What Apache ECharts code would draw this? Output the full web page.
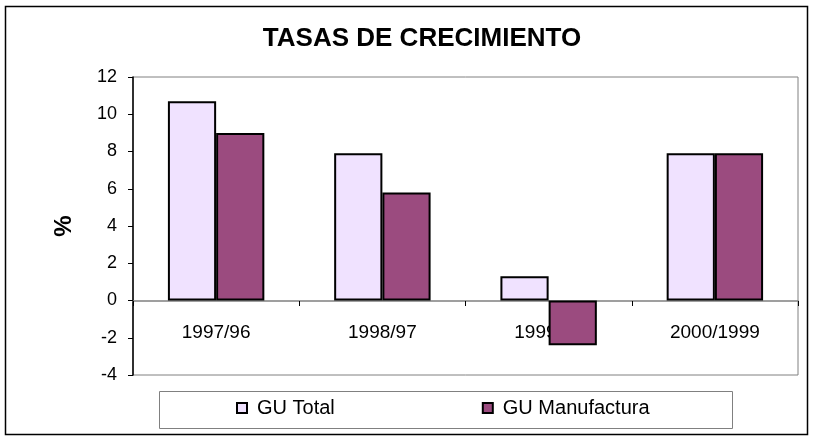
<!DOCTYPE html>
<html>
  <head>
    <meta charset="utf-8" />
    <title>Tasas de crecimiento</title>
    <script src="https://cdn.jsdelivr.net/npm/echarts@6/dist/echarts.min.js"></script>
    <style>
      html, body { margin: 0; padding: 0; background: #fff; }
    </style>
  </head>
  <body>
    <div id="main" style="width: 813px;height: 437px;"></div>
    <script type="text/javascript">
      var periodos = ['1997/96', '1998/97', '1999/98', '2000/1999']
      var guTotal = [10.7, 7.9, 1.3, 7.9]
      var guManufactura = [9.0, 5.8, -2.4, 7.9]
      var yTicks = [-4, 12, 2] // min, max, interval

      var font = 'Liberation Sans, Arial, sans-serif'
      var myChart = echarts.init(document.getElementById('main'))

      var option = {
        animation: false,
        backgroundColor: '#fff',
        title: {
          text: 'TASAS DE CRECIMIENTO',
          left: 417,
          textAlign: 'center',
          top: 21,
          textStyle: { fontFamily: font, fontSize: 26, fontWeight: 'bold', color: '#000' }
        },
        graphic: [
          {
            type: 'rect',
            shape: { x: 5.5, y: 6.5, width: 802, height: 428 },
            style: { fill: null, stroke: '#000', lineWidth: 1.5 },
            silent: true
          },
          {
            type: 'rect',
            shape: { x: 159.5, y: 391.5, width: 573, height: 37 },
            style: { fill: null, stroke: '#808080', lineWidth: 1 },
            silent: true
          }
        ],
        legend: {
          left: 236,
          top: 398,
          padding: 0,
          itemWidth: 10,
          itemHeight: 10,
          itemGap: 147,
          icon: 'rect',
          textStyle: { fontFamily: font, fontSize: 20, color: '#000', padding: [0, 0, 0, 5] },
          data: ['GU Total', 'GU Manufactura']
        },
        grid: {
          left: 133,
          right: 15,
          top: 77,
          bottom: 62,
          show: true,
          borderColor: '#808080',
          borderWidth: 1,
          containLabel: false
        },
        xAxis: {
          type: 'category',
          data: periodos,
          position: 'bottom',
          offset: -74,
          axisLine: { onZero: false, lineStyle: { color: '#808080', width: 1.5 } },
          axisTick: { show: true, inside: false, length: 5, lineStyle: { color: '#000' } },
          axisLabel: { fontFamily: font, fontSize: 19, color: '#000', margin: 22 }
        },
        yAxis: {
          type: 'value',
          min: yTicks[0],
          max: yTicks[1],
          interval: yTicks[2],
          name: '%',
          nameLocation: 'middle',
          nameRotate: 90,
          nameGap: 57,
          nameTextStyle: { fontFamily: font, fontSize: 24, fontWeight: 'bold', color: '#000' },
          splitLine: { show: false },
          axisLine: { show: true, lineStyle: { color: '#000', width: 1.5 } },
          axisTick: { show: true, length: 5, lineStyle: { color: '#000' } },
          axisLabel: { fontFamily: font, fontSize: 18, color: '#000', margin: 16 }
        },
        series: [
          {
            name: 'GU Total',
            type: 'bar',
            data: guTotal,
            barGap: '0%',
            barCategoryGap: '42%',
            itemStyle: { color: '#F0E2FF', borderColor: '#000', borderWidth: 2 }
          },
          {
            name: 'GU Manufactura',
            type: 'bar',
            data: guManufactura,
            barGap: '0%',
            barCategoryGap: '42%',
            itemStyle: { color: '#9B4B7F', borderColor: '#000', borderWidth: 2 }
          }
        ]
      }

      myChart.setOption(option)
    </script>
  </body>
</html>
